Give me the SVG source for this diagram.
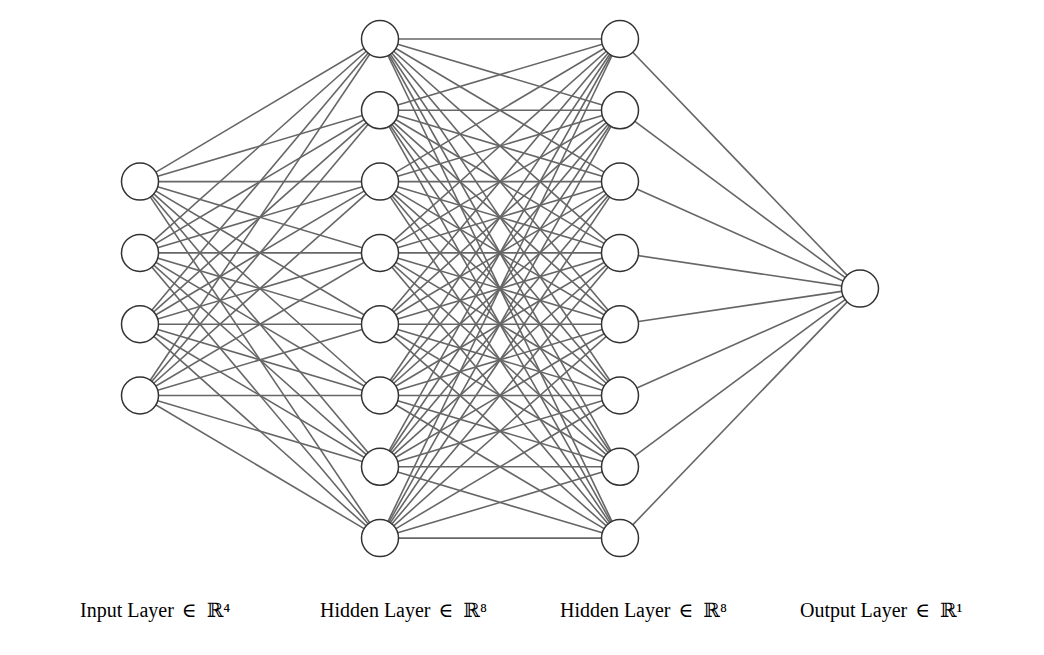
<svg xmlns="http://www.w3.org/2000/svg" width="1044" height="655" viewBox="0 0 1044 655">
<style>
.e{stroke:#666;stroke-width:1.6}
.n{fill:#fff;stroke:#333;stroke-width:1.5}
.t{font-family:"Liberation Serif","DejaVu Serif",serif;font-size:20px;fill:#000}
</style>
<rect width="1044" height="655" fill="#fff"/>
<g id="connectors">
<g>
<line class="e" x1="140" y1="181.6" x2="380" y2="39"/><line class="e" x1="140" y1="181.6" x2="380" y2="110.3"/><line class="e" x1="140" y1="181.6" x2="380" y2="181.6"/><line class="e" x1="140" y1="181.6" x2="380" y2="252.9"/><line class="e" x1="140" y1="181.6" x2="380" y2="324.2"/><line class="e" x1="140" y1="181.6" x2="380" y2="395.5"/><line class="e" x1="140" y1="181.6" x2="380" y2="466.8"/><line class="e" x1="140" y1="181.6" x2="380" y2="538.1"/>
<line class="e" x1="140" y1="252.9" x2="380" y2="39"/><line class="e" x1="140" y1="252.9" x2="380" y2="110.3"/><line class="e" x1="140" y1="252.9" x2="380" y2="181.6"/><line class="e" x1="140" y1="252.9" x2="380" y2="252.9"/><line class="e" x1="140" y1="252.9" x2="380" y2="324.2"/><line class="e" x1="140" y1="252.9" x2="380" y2="395.5"/><line class="e" x1="140" y1="252.9" x2="380" y2="466.8"/><line class="e" x1="140" y1="252.9" x2="380" y2="538.1"/>
<line class="e" x1="140" y1="324.2" x2="380" y2="39"/><line class="e" x1="140" y1="324.2" x2="380" y2="110.3"/><line class="e" x1="140" y1="324.2" x2="380" y2="181.6"/><line class="e" x1="140" y1="324.2" x2="380" y2="252.9"/><line class="e" x1="140" y1="324.2" x2="380" y2="324.2"/><line class="e" x1="140" y1="324.2" x2="380" y2="395.5"/><line class="e" x1="140" y1="324.2" x2="380" y2="466.8"/><line class="e" x1="140" y1="324.2" x2="380" y2="538.1"/>
<line class="e" x1="140" y1="395.5" x2="380" y2="39"/><line class="e" x1="140" y1="395.5" x2="380" y2="110.3"/><line class="e" x1="140" y1="395.5" x2="380" y2="181.6"/><line class="e" x1="140" y1="395.5" x2="380" y2="252.9"/><line class="e" x1="140" y1="395.5" x2="380" y2="324.2"/><line class="e" x1="140" y1="395.5" x2="380" y2="395.5"/><line class="e" x1="140" y1="395.5" x2="380" y2="466.8"/><line class="e" x1="140" y1="395.5" x2="380" y2="538.1"/>
</g>
<g>
<line class="e" x1="380" y1="39" x2="620" y2="39"/><line class="e" x1="380" y1="39" x2="620" y2="110.3"/><line class="e" x1="380" y1="39" x2="620" y2="181.6"/><line class="e" x1="380" y1="39" x2="620" y2="252.9"/><line class="e" x1="380" y1="39" x2="620" y2="324.2"/><line class="e" x1="380" y1="39" x2="620" y2="395.5"/><line class="e" x1="380" y1="39" x2="620" y2="466.8"/><line class="e" x1="380" y1="39" x2="620" y2="538.1"/>
<line class="e" x1="380" y1="110.3" x2="620" y2="39"/><line class="e" x1="380" y1="110.3" x2="620" y2="110.3"/><line class="e" x1="380" y1="110.3" x2="620" y2="181.6"/><line class="e" x1="380" y1="110.3" x2="620" y2="252.9"/><line class="e" x1="380" y1="110.3" x2="620" y2="324.2"/><line class="e" x1="380" y1="110.3" x2="620" y2="395.5"/><line class="e" x1="380" y1="110.3" x2="620" y2="466.8"/><line class="e" x1="380" y1="110.3" x2="620" y2="538.1"/>
<line class="e" x1="380" y1="181.6" x2="620" y2="39"/><line class="e" x1="380" y1="181.6" x2="620" y2="110.3"/><line class="e" x1="380" y1="181.6" x2="620" y2="181.6"/><line class="e" x1="380" y1="181.6" x2="620" y2="252.9"/><line class="e" x1="380" y1="181.6" x2="620" y2="324.2"/><line class="e" x1="380" y1="181.6" x2="620" y2="395.5"/><line class="e" x1="380" y1="181.6" x2="620" y2="466.8"/><line class="e" x1="380" y1="181.6" x2="620" y2="538.1"/>
<line class="e" x1="380" y1="252.9" x2="620" y2="39"/><line class="e" x1="380" y1="252.9" x2="620" y2="110.3"/><line class="e" x1="380" y1="252.9" x2="620" y2="181.6"/><line class="e" x1="380" y1="252.9" x2="620" y2="252.9"/><line class="e" x1="380" y1="252.9" x2="620" y2="324.2"/><line class="e" x1="380" y1="252.9" x2="620" y2="395.5"/><line class="e" x1="380" y1="252.9" x2="620" y2="466.8"/><line class="e" x1="380" y1="252.9" x2="620" y2="538.1"/>
<line class="e" x1="380" y1="324.2" x2="620" y2="39"/><line class="e" x1="380" y1="324.2" x2="620" y2="110.3"/><line class="e" x1="380" y1="324.2" x2="620" y2="181.6"/><line class="e" x1="380" y1="324.2" x2="620" y2="252.9"/><line class="e" x1="380" y1="324.2" x2="620" y2="324.2"/><line class="e" x1="380" y1="324.2" x2="620" y2="395.5"/><line class="e" x1="380" y1="324.2" x2="620" y2="466.8"/><line class="e" x1="380" y1="324.2" x2="620" y2="538.1"/>
<line class="e" x1="380" y1="395.5" x2="620" y2="39"/><line class="e" x1="380" y1="395.5" x2="620" y2="110.3"/><line class="e" x1="380" y1="395.5" x2="620" y2="181.6"/><line class="e" x1="380" y1="395.5" x2="620" y2="252.9"/><line class="e" x1="380" y1="395.5" x2="620" y2="324.2"/><line class="e" x1="380" y1="395.5" x2="620" y2="395.5"/><line class="e" x1="380" y1="395.5" x2="620" y2="466.8"/><line class="e" x1="380" y1="395.5" x2="620" y2="538.1"/>
<line class="e" x1="380" y1="466.8" x2="620" y2="39"/><line class="e" x1="380" y1="466.8" x2="620" y2="110.3"/><line class="e" x1="380" y1="466.8" x2="620" y2="181.6"/><line class="e" x1="380" y1="466.8" x2="620" y2="252.9"/><line class="e" x1="380" y1="466.8" x2="620" y2="324.2"/><line class="e" x1="380" y1="466.8" x2="620" y2="395.5"/><line class="e" x1="380" y1="466.8" x2="620" y2="466.8"/><line class="e" x1="380" y1="466.8" x2="620" y2="538.1"/>
<line class="e" x1="380" y1="538.1" x2="620" y2="39"/><line class="e" x1="380" y1="538.1" x2="620" y2="110.3"/><line class="e" x1="380" y1="538.1" x2="620" y2="181.6"/><line class="e" x1="380" y1="538.1" x2="620" y2="252.9"/><line class="e" x1="380" y1="538.1" x2="620" y2="324.2"/><line class="e" x1="380" y1="538.1" x2="620" y2="395.5"/><line class="e" x1="380" y1="538.1" x2="620" y2="466.8"/><line class="e" x1="380" y1="538.1" x2="620" y2="538.1"/>
</g>
<g>
<line class="e" x1="620" y1="39" x2="860" y2="288.6"/><line class="e" x1="620" y1="110.3" x2="860" y2="288.6"/><line class="e" x1="620" y1="181.6" x2="860" y2="288.6"/><line class="e" x1="620" y1="252.9" x2="860" y2="288.6"/><line class="e" x1="620" y1="324.2" x2="860" y2="288.6"/><line class="e" x1="620" y1="395.5" x2="860" y2="288.6"/><line class="e" x1="620" y1="466.8" x2="860" y2="288.6"/><line class="e" x1="620" y1="538.1" x2="860" y2="288.6"/>
</g>
</g>
<g id="input-layer">
<circle id="in1" class="n" cx="140" cy="181.6" r="18.5"/>
<circle id="in2" class="n" cx="140" cy="252.9" r="18.5"/>
<circle id="in3" class="n" cx="140" cy="324.2" r="18.5"/>
<circle id="in4" class="n" cx="140" cy="395.5" r="18.5"/>
</g>
<g id="hidden-layer-1">
<circle id="h1_1" class="n" cx="380" cy="39" r="18.5"/>
<circle id="h1_2" class="n" cx="380" cy="110.3" r="18.5"/>
<circle id="h1_3" class="n" cx="380" cy="181.6" r="18.5"/>
<circle id="h1_4" class="n" cx="380" cy="252.9" r="18.5"/>
<circle id="h1_5" class="n" cx="380" cy="324.2" r="18.5"/>
<circle id="h1_6" class="n" cx="380" cy="395.5" r="18.5"/>
<circle id="h1_7" class="n" cx="380" cy="466.8" r="18.5"/>
<circle id="h1_8" class="n" cx="380" cy="538.1" r="18.5"/>
</g>
<g id="hidden-layer-2">
<circle id="h2_1" class="n" cx="620" cy="39" r="18.5"/>
<circle id="h2_2" class="n" cx="620" cy="110.3" r="18.5"/>
<circle id="h2_3" class="n" cx="620" cy="181.6" r="18.5"/>
<circle id="h2_4" class="n" cx="620" cy="252.9" r="18.5"/>
<circle id="h2_5" class="n" cx="620" cy="324.2" r="18.5"/>
<circle id="h2_6" class="n" cx="620" cy="395.5" r="18.5"/>
<circle id="h2_7" class="n" cx="620" cy="466.8" r="18.5"/>
<circle id="h2_8" class="n" cx="620" cy="538.1" r="18.5"/>
</g>
<g id="output-layer">
<circle id="out1" class="n" cx="860" cy="288.6" r="18.5"/>
</g>
<g id="labels">
<text class="t" x="80" y="617">Input Layer<tspan dx="3"> ∈</tspan><tspan dx="5"> ℝ⁴</tspan></text>
<text class="t" x="320" y="617">Hidden Layer<tspan dx="3"> ∈</tspan><tspan dx="5"> ℝ⁸</tspan></text>
<text class="t" x="560" y="617">Hidden Layer<tspan dx="3"> ∈</tspan><tspan dx="5"> ℝ⁸</tspan></text>
<text class="t" x="800" y="617">Output Layer<tspan dx="3"> ∈</tspan><tspan dx="5"> ℝ¹</tspan></text>
</g>
</svg>
